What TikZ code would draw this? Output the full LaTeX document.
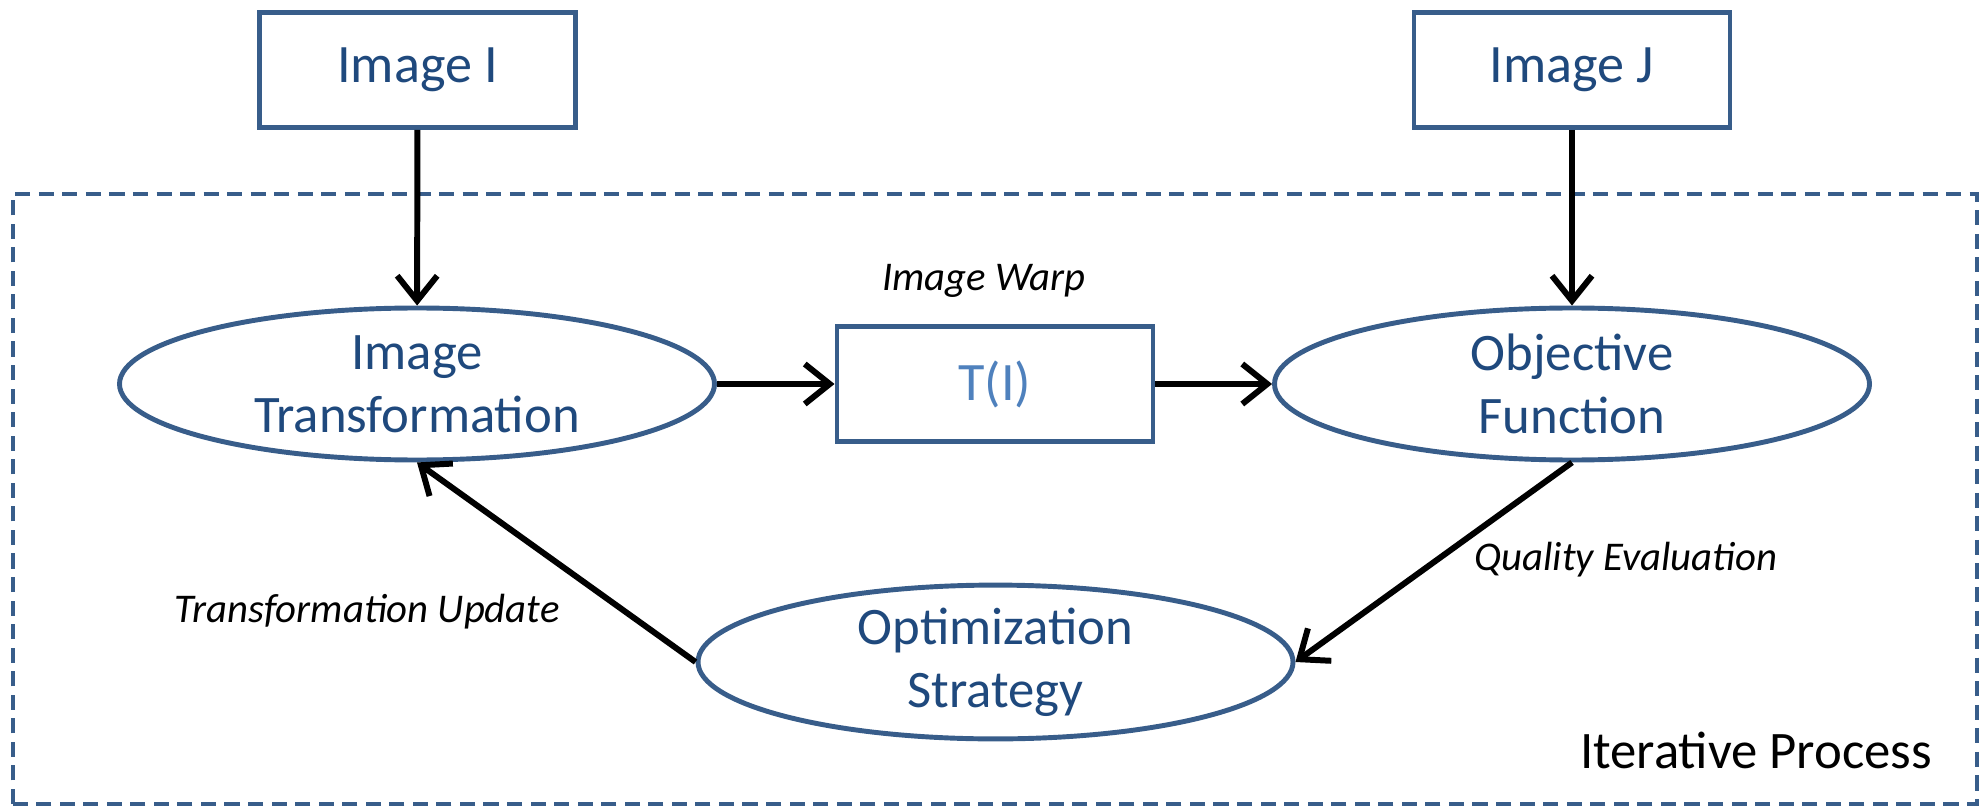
\documentclass[tikz,border=0pt]{standalone}
\usepackage{fontspec}
\setmainfont{Carlito}
\usetikzlibrary{shapes.geometric, arrows.meta, positioning}
\definecolor{edgeblue}{HTML}{385D8A}
\definecolor{textblue}{HTML}{1F497D}
\definecolor{lightblue}{HTML}{4F81BD}
\tikzset{
    imagebox/.style={
        rectangle, draw=edgeblue, line width=1.4pt,
        minimum width=3.16cm, minimum height=1.15cm,
        fill=white, text=textblue, font=\fontsize{15.4}{18}\selectfont
    },
    stage/.style={
        ellipse, draw=edgeblue, line width=1.4pt, inner sep=0pt,
        minimum width=5.95cm, minimum height=1.52cm, align=center,
        fill=white, text=textblue, font=\fontsize{15}{18}\selectfont
    },
    wire/.style={draw=black, line width=1.7pt, -{Straight Barb[length=2.5mm, width=4mm]}},
    stepnote/.style={font=\fontsize{11.6}{14}\selectfont\itshape}
}

\begin{document}
\begin{tikzpicture}
\useasboundingbox (0,0) rectangle (19.84,8.05);

% Iterative loop frame
\draw[edgeblue, line width=1.2pt, dash pattern=on 4.3pt off 2.4pt] (0.13,0.01) rectangle (19.77,6.11);
\node[font=\fontsize{15}{18}\selectfont] (iter) at (17.56,0.55) {Iterative Process};

% Inputs
\node[imagebox] (imgI) at (4.175,7.35) {Image I};
\node[imagebox] (imgJ) at (15.72,7.35) {Image J};

% Stages
\node[stage] (trans) at (4.17,4.21) {Image\\Transformation};
\node[imagebox, text=lightblue] (warped) at (9.95,4.21) {T(I)};
\node[stage] (obj) at (15.72,4.21) {Objective\\Function};
\node[stage] (opt) at (9.955,1.43) {Optimization\\Strategy};

% Step labels
\node[stepnote] (warp) at (9.84,5.24) {Image Warp};
\node[stepnote] (quality) at (16.26,2.45) {Quality Evaluation};
\node[stepnote] (update) at (3.67,1.93) {Transformation Update};

\draw[wire] (imgI) -- (trans);
\draw[wire] (imgJ) -- (obj);
\draw[wire] (trans) -- (warped);
\draw[wire] (warped) -- (obj);
\draw[wire] (obj.south) -- (opt.east);
\draw[wire] (opt.west) -- (trans.south);

\end{tikzpicture}
\end{document}
